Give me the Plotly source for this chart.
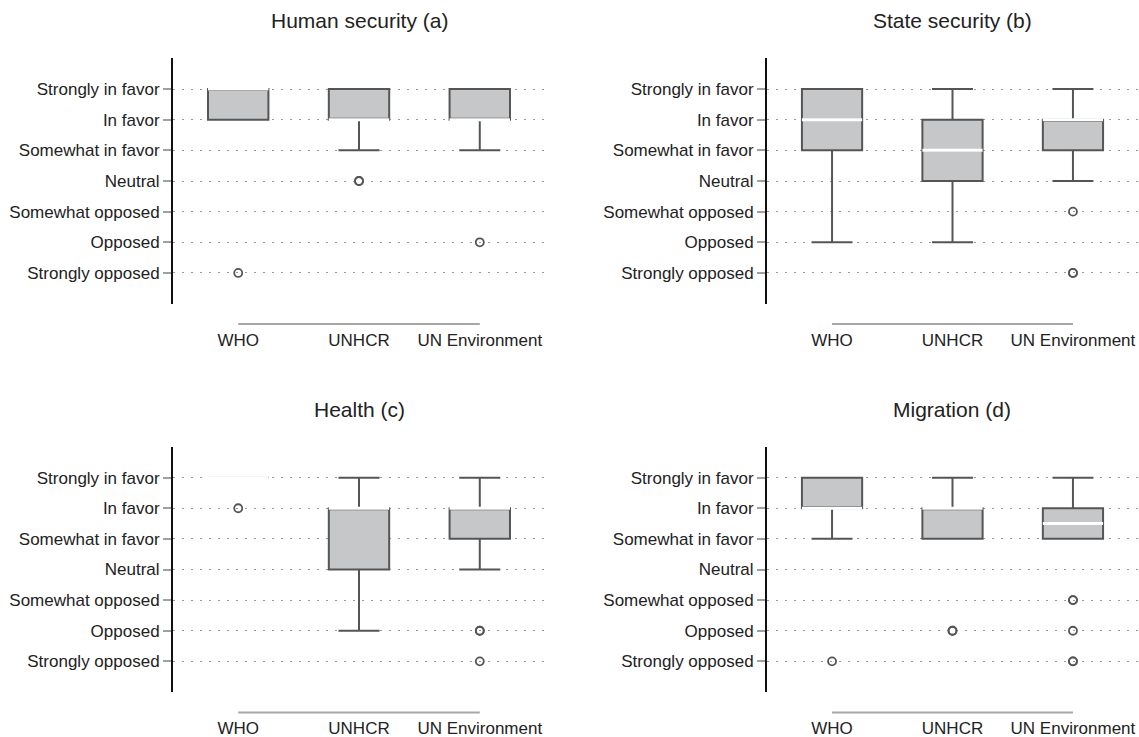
import plotly.graph_objects as go

# ---------------- data ----------------
categories = ["WHO", "UNHCR", "UN Environment"]
levels = ["Strongly opposed", "Opposed", "Somewhat opposed", "Neutral",
          "Somewhat in favor", "In favor", "Strongly in favor"]
level_values = [1, 2, 3, 4, 5, 6, 7]
panel_titles = ["Human security (a)", "State security (b)", "Health (c)", "Migration (d)"]

# Human security (a)
hs_q1 = [6, 6, 6]
hs_med = [7, 6, 6]
hs_q3 = [7, 7, 7]
hs_lo = [6, 5, 5]
hs_hi = [7, 7, 7]
hs_out = [[1], [4, 4], [2]]

# State security (b)
ss_q1 = [5, 4, 5]
ss_med = [6, 5, 6]
ss_q3 = [7, 6, 6]
ss_lo = [2, 2, 4]
ss_hi = [7, 7, 7]
ss_out = [[], [], [3, 1, 1]]

# Health (c)
he_q1 = [7, 4, 5]
he_med = [7, 6, 6]
he_q3 = [7, 6, 6]
he_lo = [7, 2, 4]
he_hi = [7, 7, 7]
he_out = [[6], [], [2, 2, 1]]

# Migration (d)
mi_q1 = [6, 5, 5]
mi_med = [6, 6, 5.5]
mi_q3 = [7, 6, 6]
mi_lo = [5, 5, 5]
mi_hi = [7, 7, 7]
mi_out = [[1], [2, 2], [3, 3, 2, 1, 1]]

panels = [
    (hs_q1, hs_med, hs_q3, hs_lo, hs_hi, hs_out),
    (ss_q1, ss_med, ss_q3, ss_lo, ss_hi, ss_out),
    (he_q1, he_med, he_q3, he_lo, he_hi, he_out),
    (mi_q1, mi_med, mi_q3, mi_lo, mi_hi, mi_out),
]

# ---------------- style / layout ----------------
W, H = 1139, 737
FONT = "Liberation Sans, Arial, Helvetica, sans-serif"
BOX_FILL = "#c6c7c9"
BOX_LINE = "#555555"
GRID = "#9a9a9a"
BOX_WIDTH = 0.5

# pixel geometry of the plot areas
col_px = [(173, 545), (767, 1138)]
row_px = [(58.4, 303.6), (447, 692)]
xrange_ = [-0.54, 2.54]
yrange_ = [0, 8]

fig = go.Figure()
positions = list(range(len(categories)))

for p, (q1, med, q3, lo, hi, outs) in enumerate(panels):
    r, c = divmod(p, 2)
    sfx = "" if p == 0 else str(p + 1)
    xa, ya = "x" + sfx, "y" + sfx

    fig.add_trace(go.Box(
        x=positions, q1=q1, median=med, q3=q3,
        lowerfence=lo, upperfence=hi,
        width=BOX_WIDTH, whiskerwidth=0.68,
        fillcolor=BOX_FILL, line=dict(color=BOX_LINE, width=2),
        boxpoints=False, hoverinfo="skip", showlegend=False,
        xaxis=xa, yaxis=ya,
    ))

    # white median lines
    mx, my = [], []
    for i, m in zip(positions, med):
        mx += [i - BOX_WIDTH / 2, i + BOX_WIDTH / 2, None]
        my += [m, m, None]
    fig.add_trace(go.Scatter(
        x=mx, y=my, mode="lines", line=dict(color="white", width=3),
        hoverinfo="skip", showlegend=False, xaxis=xa, yaxis=ya,
    ))

    # outliers
    ox, oy = [], []
    for i, vals in zip(positions, outs):
        for v in vals:
            ox.append(i)
            oy.append(v)
    if ox:
        fig.add_trace(go.Scatter(
            x=ox, y=oy, mode="markers",
            marker=dict(symbol="circle-open", size=8,
                        line=dict(color=BOX_LINE, width=1.8), color=BOX_LINE),
            hoverinfo="skip", showlegend=False, xaxis=xa, yaxis=ya,
        ))

    x0p, x1p = col_px[c]
    y0p, y1p = row_px[r]
    xdom = [x0p / W, x1p / W]
    ydom = [1 - y1p / H, 1 - y0p / H]
    plot_h = y1p - y0p

    fig.update_layout(**{
        ("xaxis" + sfx): dict(
            domain=xdom, range=xrange_, anchor=ya,
            tickmode="array", tickvals=positions, ticktext=categories,
            showgrid=False, zeroline=False, showline=False, ticks="",
            ticklabelstandoff=24,
            tickfont=dict(family=FONT, size=17, color="#222222"),
        ),
        ("yaxis" + sfx): dict(
            domain=ydom, range=yrange_, anchor=xa,
            tickmode="array", tickvals=level_values, ticktext=levels,
            showgrid=True, gridcolor=GRID, gridwidth=1, griddash="2px,7px",
            zeroline=False, showline=True, linecolor="#111111", linewidth=2,
            ticks="outside", ticklen=8, tickwidth=2, tickcolor="#a0a0a0",
            tickfont=dict(family=FONT, size=17, color="#222222"),
        ),
    })

    # detached category axis line (first to last category)
    fig.add_shape(
        type="line", xref=xa, yref=ya + " domain",
        x0=positions[0], x1=positions[-1],
        y0=-20.5 / plot_h, y1=-20.5 / plot_h,
        line=dict(color="#a6a6a6", width=2),
    )

    # panel title
    fig.add_annotation(
        text=panel_titles[p], xref="paper", yref="paper",
        x=(xdom[0] + xdom[1]) / 2, y=1 - (y0p - 37.5) / H,
        xanchor="center", yanchor="middle", showarrow=False,
        font=dict(family=FONT, size=21, color="#222222"),
    )

fig.update_layout(
    width=W, height=H, template="none",
    margin=dict(l=0, r=0, t=0, b=0),
    paper_bgcolor="white", plot_bgcolor="white",
    font=dict(family=FONT, color="#222222"),
    showlegend=False,
)

fig.write_html(
    "out.html",
    config={"displayModeBar": False, "staticPlot": True},
    post_script="document.body.style.margin='0';document.body.style.overflow='hidden';",
)
